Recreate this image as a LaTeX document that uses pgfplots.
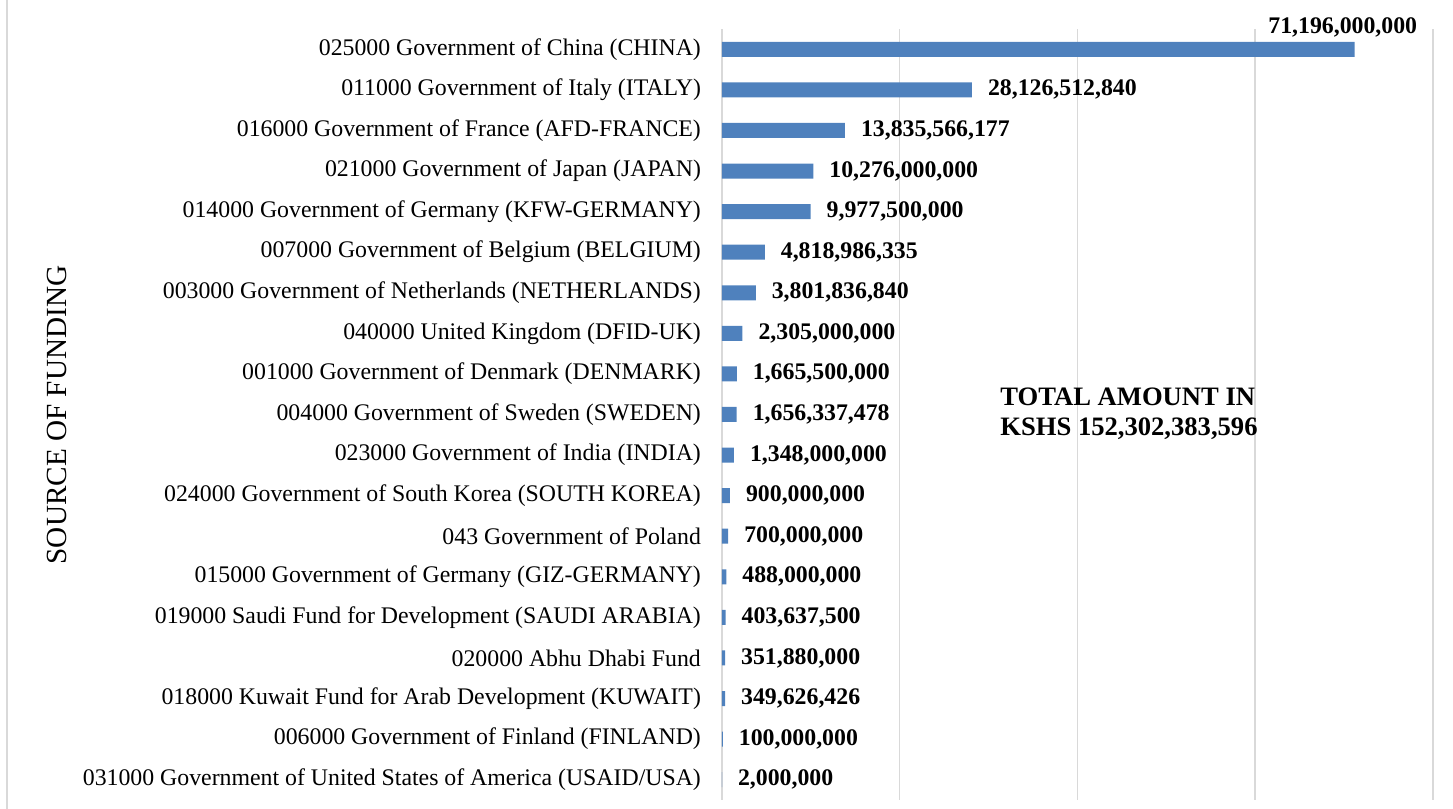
\documentclass[border=0pt]{standalone}
\usepackage{fontspec}
\setmainfont{Liberation Serif}
\usepackage{pgfplots}
\usepackage{pgfplotstable}
\pgfplotsset{compat=1.18}
\definecolor{barblue}{RGB}{79,129,189}
\definecolor{gridgray}{RGB}{217,217,217}

% rows bottom (idx 0) to top (idx 18)
\pgfplotstableread[col sep=semicolon]{
idx;amount;lbl;name
0;2000000;2,000,000;031000 Government of United States of America (USAID/USA)
1;100000000;100,000,000;006000 Government of Finland (FINLAND)
2;349626426;349,626,426;018000 Kuwait Fund for Arab Development (KUWAIT)
3;351880000;351,880,000;020000 Abhu Dhabi Fund
4;403637500;403,637,500;019000 Saudi Fund for Development (SAUDI ARABIA)
5;488000000;488,000,000;015000 Government of Germany (GIZ-GERMANY)
6;700000000;700,000,000;043 Government of Poland
7;900000000;900,000,000;024000 Government of South Korea (SOUTH KOREA)
8;1348000000;1,348,000,000;023000 Government of India (INDIA)
9;1656337478;1,656,337,478;004000 Government of Sweden (SWEDEN)
10;1665500000;1,665,500,000;001000 Government of Denmark (DENMARK)
11;2305000000;2,305,000,000;040000 United Kingdom (DFID-UK)
12;3801836840;3,801,836,840;003000 Government of Netherlands (NETHERLANDS)
13;4818986335;4,818,986,335;007000 Government of Belgium (BELGIUM)
14;9977500000;9,977,500,000;014000 Government of Germany (KFW-GERMANY)
15;10276000000;10,276,000,000;021000 Government of Japan (JAPAN)
16;13835566177;13,835,566,177;016000 Government of France (AFD-FRANCE)
17;28126512840;28,126,512,840;011000 Government of Italy (ITALY)
18;71196000000;{};025000 Government of China (CHINA)
}\funding

\begin{document}
\begin{tikzpicture}
\useasboundingbox (-361pt,-4.5pt) rectangle (365.5pt,400pt);
\draw[gridgray, line width=1pt] (-357.5pt,-4.5pt) -- (-357.5pt,400pt);
\draw[gridgray, line width=0.9pt] (355.5pt,0pt) -- (355.5pt,385.5pt);
\begin{axis}[
    scale only axis,
    width=355.5pt, height=385.5pt,
    xbar, bar width=7.5pt, bar shift=0pt,
    xmin=0, xmax=80e9, ymin=-0.5, ymax=18.5,
    xtick={0,20e9,40e9,60e9}, xticklabel=\empty,
    xmajorgrids,
    grid style={gridgray, line width=0.75pt},
    axis line style={draw=none},
    major tick length=0pt,
    ytick={0,...,18},
    yticklabels from table={\funding}{name},
    yticklabel style={font=\fontsize{11.9}{14}\selectfont, xshift=-7pt},
    point meta=explicit symbolic,
    nodes near coords,
    nodes near coords align={horizontal},
    every node near coord/.append style={font=\fontsize{11.9}{14}\selectfont\bfseries, anchor=west, xshift=4.5pt, black},
    clip=false,
]
\addplot[fill=barblue, draw=none] table[x=amount, y=idx, meta=lbl] {\funding};
\node[font=\fontsize{11.9}{14}\selectfont\bfseries, xshift=-6pt, yshift=11pt] at (axis cs:71196000000,18) {71,196,000,000};
\end{axis}
\node[rotate=90, font=\fontsize{14.6}{17}\selectfont] at (-332.5pt,192.5pt) {SOURCE OF FUNDING};
\node[anchor=west, align=left, font=\fontsize{13.3}{15}\selectfont\bfseries, inner sep=0pt] at (139pt,193pt) {TOTAL AMOUNT IN\\KSHS 152,302,383,596};
\end{tikzpicture}
\end{document}
